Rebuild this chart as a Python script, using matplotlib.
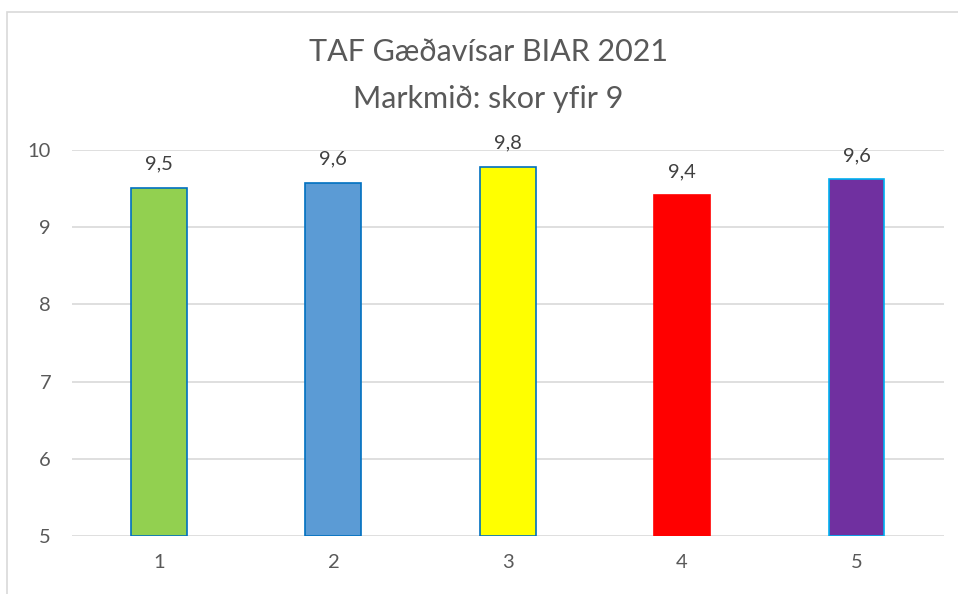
import matplotlib.pyplot as plt
from matplotlib.patches import Rectangle

plt.rcParams['font.family'] = ['Lato', 'DejaVu Sans']

categories = ['1', '2', '3', '4', '5']
values = [9.51, 9.57, 9.78, 9.41, 9.62]
labels = ['9,5', '9,6', '9,8', '9,4', '9,6']
fill_colors = ['#92D050', '#5B9BD5', '#FFFF00', '#FF0000', '#7030A0']
edge_colors = ['#0070C0', '#0070C0', '#0070C0', '#FF0000', '#00B0F0']

fig = plt.figure(figsize=(9.58, 5.94), dpi=100)
ax = fig.add_axes([0.075, 0.0976, 0.91, 0.65])

x = range(len(categories))
bars = ax.bar(x, [v - 5 for v in values], bottom=5, width=0.32,
              color=fill_colors, edgecolor=edge_colors, linewidth=1.2, zorder=3)

for xi, v, lab in zip(x, values, labels):
    ax.annotate(lab, (xi, v), xytext=(0, 11), textcoords='offset points',
                ha='center', va='bottom', fontsize=14.5, color='#404040')

ax.set_xlim(-0.5, 4.5)
ax.set_ylim(5, 10)
ax.set_yticks([5, 6, 7, 8, 9, 10])
ax.set_xticks(list(x))
ax.set_xticklabels(categories)
ax.grid(axis='y', color='#D9D9D9', linewidth=1.2, zorder=0)
for s in ax.spines.values():
    s.set_visible(False)
ax.tick_params(length=0, labelsize=14.5, labelcolor='#595959')
ax.tick_params(axis='y', pad=15)
ax.tick_params(axis='x', pad=13)

fig.text(0.51, 0.913, 'TAF Gæðavísar BIAR 2021', ha='center', va='center',
         fontsize=22, color='#595959')
fig.text(0.51, 0.833, 'Markmið: skor yfir 9', ha='center', va='center',
         fontsize=22, color='#595959')

fig.patches.append(Rectangle((0.007, -0.1), 1.2, 1.08, transform=fig.transFigure,
                             fill=False, edgecolor='#D9D9D9', linewidth=1.2))

fig.savefig('out.png', dpi=100)
